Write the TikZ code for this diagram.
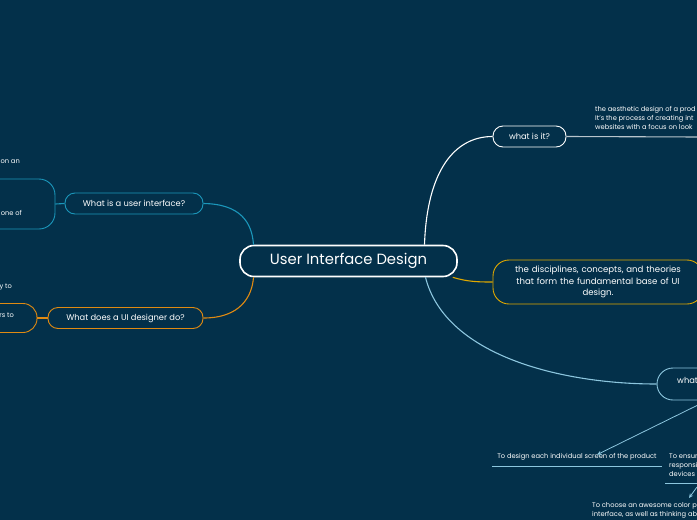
\documentclass[tikz,border=0pt]{standalone}
\usepackage{fontspec}
\setmainfont{Poppins}
\usetikzlibrary{calc,arrows.meta}
\definecolor{bg}{HTML}{03304A}
\definecolor{teal}{HTML}{1B96BA}
\definecolor{orng}{HTML}{E08A12}
\definecolor{gold}{HTML}{E0A800}
\definecolor{lblue}{HTML}{8CC6DE}
\definecolor{lgray}{HTML}{B8C4CC}
\tikzset{
  box/.style={draw, rounded corners=#1, line width=0.9pt, text=white, inner sep=0pt, align=center},
  box/.default=10pt,
  lbl/.style={text=white, font=\fontsize{8.3}{10}\selectfont},
  small/.style={text=white, font=\fontsize{6.7}{8.9}\selectfont, inner sep=0pt, align=left},
  link/.style={line width=1.1pt},
}
\begin{document}
\begin{tikzpicture}[x=1pt,y=-1pt]
\fill[bg] (0,0) rectangle (697,520);
\useasboundingbox (0,0) rectangle (697,520);
\clip (0,0) rectangle (697,520);

% central node
\node[box=14pt, draw=white, line width=1.6pt, minimum width=217pt, minimum height=31pt,
      font=\fontsize{14.8}{16}\selectfont] (main) at (348.5,261) {User Interface Design};

% right: what is it?
\node[box, draw=white, minimum width=73pt, minimum height=21pt, lbl] (what) at (529.5,136.5) {what is it?};
\coordinate (whatend) at (700,137);
\draw[lgray, link] (what.east) -- (whatend);
\node[small, anchor=north west] (whattxt) at (595,106.5) {the aesthetic design of a prod\\It's the process of creating int\\websites with a focus on look};

% right: disciplines
\node[box=16pt, draw=gold, minimum width=210pt, minimum height=44pt, text width=190pt,
      font=\fontsize{8.6}{11.5}\selectfont] (disc) at (598,282)
      {the disciplines, concepts, and theories\\that form the fundamental base of UI\\design.};

% right: what ... (clipped)
\node[box=16pt, draw=lblue, minimum width=110pt, minimum height=32pt] (whatui) at (712,384) {};
\node[lbl, anchor=west, inner sep=0pt] (whatuitxt) at (677,380) {what};

% connectors from main
\draw[white, link] ([xshift=76pt]main.north) .. controls (427,170) and (455,136.5) .. (what.west);
\draw[gold, link] ([xshift=-5pt]main.south east) .. controls (468,282) and (480,282) .. (disc.west);
\draw[lblue, link] ([xshift=77pt]main.south) .. controls (445,355) and (560,384) .. (whatui.west);

% sub items of what...
\coordinate (a1) at (700,404);
\coordinate (a2) at (697,487);
\node[small, anchor=south, inner sep=1pt] (design) at (577,462) {To design each individual screen of the product};
\draw[lblue, line width=0.9pt] (492,466) -- (662,466);
\draw[lblue, line width=0.8pt, -{Stealth[length=4.5pt,width=4pt]}] (a1) -- ([xshift=20pt,yshift=-2pt]design.north);
\node[small, anchor=north west] (ensure) at (669,453.5) {To ensur\\responsi\\devices o};
\draw[lblue, line width=0.9pt] (665,483) -- (700,483);
\node[small, anchor=north west] (choose) at (592,502) {To choose an awesome color p\\interface, as well as thinking ab};
\draw[lblue, line width=0.8pt, -{Stealth[length=4.5pt,width=4pt]}] (a2) -- (689,498);

% left: what is a user interface
\node[box, draw=teal, minimum width=138pt, minimum height=21pt, lbl] (ui) at (134,203.5) {What is a user interface?};
\node[box=16pt, draw=teal, minimum width=110pt, minimum height=50pt] (uileft) at (0,204) {};
\draw[teal, link] (uileft.east) -- (ui.west);
\draw[teal, link] (ui.east) .. controls (240,204) and (252,222) .. ([xshift=-95pt]main.north);
\node[small, anchor=east] (t1) at (20,162) {on an};
\node[small, anchor=east] (t2) at (22,213) {one of};

% left: what does a UI designer do
\node[box, draw=orng, minimum width=155pt, minimum height=21pt, lbl] (uid) at (125.5,318) {What does a UI designer do?};
\node[box=14pt, draw=orng, minimum width=74pt, minimum height=29pt] (uidleft) at (0,318) {};
\draw[orng, link] (uidleft.east) -- (uid.west);
\draw[orng, link] (uid.east) .. controls (240,318) and (252,297) .. ([xshift=-95pt]main.south);
\node[small, anchor=east] (t3) at (12,287) {y to};
\node[small, anchor=east] (t4) at (14,315) {rs to};
\end{tikzpicture}
\end{document}
